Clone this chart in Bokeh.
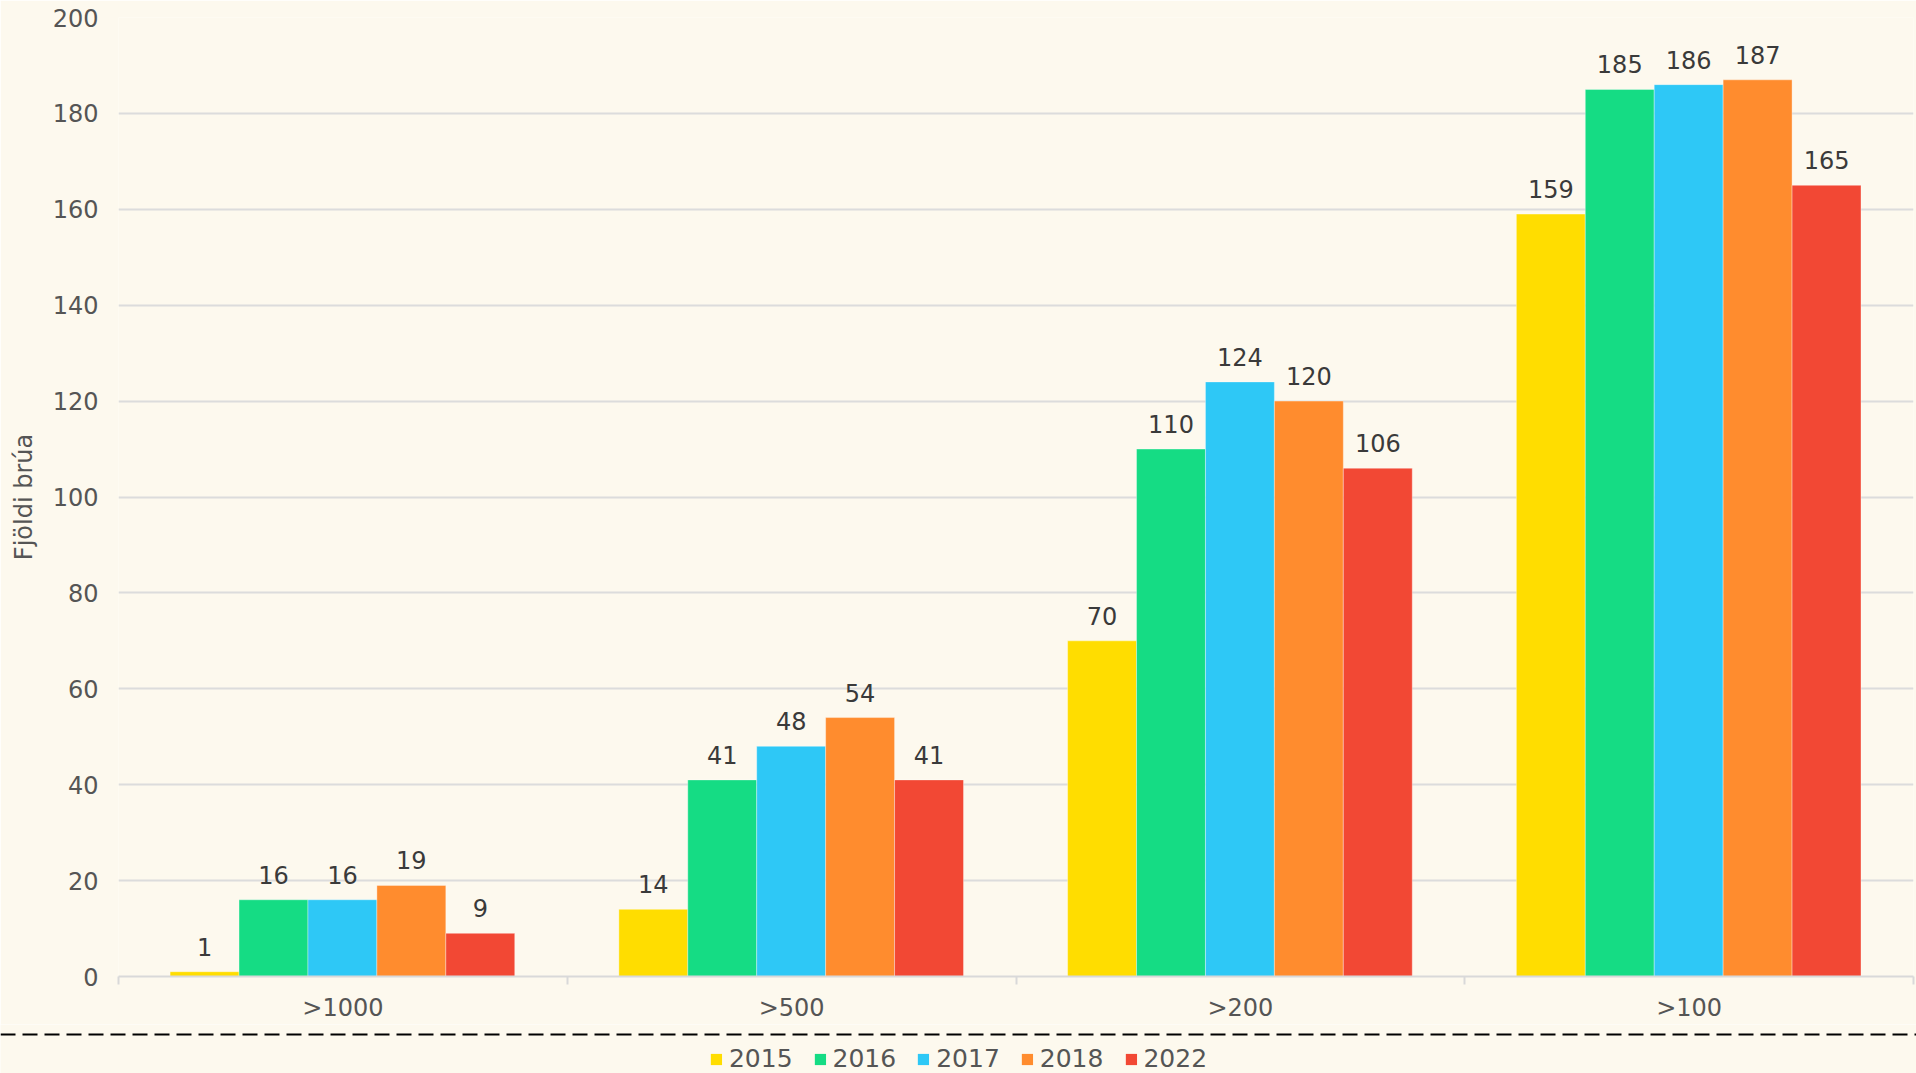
from bokeh.plotting import figure
from bokeh.models import ColumnDataSource, FixedTicker, Range1d, Span, Legend, LegendItem
from bokeh.layouts import column
from bokeh.embed import file_html
from bokeh.resources import INLINE
from bokeh.core.properties import value

categories = [">1000", ">500", ">200", ">100"]
years = ["2015", "2016", "2017", "2018", "2022"]
v2015 = [1, 14, 70, 159]
v2016 = [16, 41, 110, 185]
v2017 = [16, 48, 124, 186]
v2018 = [19, 54, 120, 187]
v2022 = [9, 41, 106, 165]
y_ticks = [0, 20, 40, 60, 80, 100, 120, 140, 160, 180, 200]
y_label = "Fjöldi brúa"

series = [v2015, v2016, v2017, v2018, v2022]
colors = ["#FFDD00", "#15DC84", "#2EC8F6", "#FF8C2E", "#F24834"]

FONT = "DejaVu Sans"
BG = "#FDF9EE"
TICK_COLOR = "#555555"

p = figure(width=1916, height=1024,
           x_range=Range1d(0, len(categories)), y_range=Range1d(0, y_ticks[-1]),
           output_backend="svg", toolbar_location=None,
           min_border_left=118, min_border_right=3, min_border_top=17, min_border_bottom=48,
           background_fill_color=BG, border_fill_color=BG, outline_line_color=None)

group_start = 0.115
bar_w = 0.1536
for j, (yr, vals, col) in enumerate(zip(years, series, colors)):
    xs = [i + group_start + (j + 0.5) * bar_w for i in range(len(categories))]
    src = ColumnDataSource(dict(x=xs, top=vals, label=[str(v) for v in vals]))
    p.vbar(x="x", top="top", width=bar_w, source=src, fill_color=col,
           line_color="white", line_alpha=0.35, line_width=1)
    p.text(x="x", y="top", text="label", source=src, text_align="center",
           text_baseline="alphabetic", y_offset=-25, text_font=value(FONT),
           text_font_size="24px", text_color="#3a3a3a")

xa = p.xaxis[0]
xa.ticker = FixedTicker(ticks=[i + 0.5 for i in range(len(categories))],
                        minor_ticks=list(range(len(categories) + 1)))
xa.major_label_overrides = {i + 0.5: c for i, c in enumerate(categories)}
xa.major_tick_line_color = None
xa.major_tick_out = 8
xa.major_tick_in = 0
xa.minor_tick_line_color = "#d9d9d9"
xa.minor_tick_line_width = 2
xa.minor_tick_out = 8
xa.minor_tick_in = 0
xa.axis_line_color = "#d9d9d9"
xa.axis_line_width = 2
xa.major_label_standoff = 9
xa.major_label_text_font = FONT
xa.major_label_text_font_size = "24px"
xa.major_label_text_color = TICK_COLOR

ya = p.yaxis[0]
ya.ticker = FixedTicker(ticks=y_ticks)
ya.axis_line_color = None
ya.major_tick_line_color = None
ya.minor_tick_line_color = None
ya.major_tick_out = 0
ya.major_tick_in = 0
ya.major_label_standoff = 20
ya.major_label_text_font = FONT
ya.major_label_text_font_size = "24px"
ya.major_label_text_color = TICK_COLOR
ya.axis_label = y_label
ya.axis_label_standoff = 12
ya.axis_label_text_font = FONT
ya.axis_label_text_font_size = "24px"
ya.axis_label_text_font_style = "normal"
ya.axis_label_text_color = TICK_COLOR

p.xgrid.visible = False
p.ygrid.grid_line_color = "#dcdcdc"
p.ygrid.grid_line_width = 2

# footer with dashed separator and legend
p2 = figure(width=1916, height=49, x_range=Range1d(0, 1), y_range=Range1d(0, 49),
            output_backend="svg", toolbar_location=None,
            x_axis_type=None, y_axis_type=None, min_border=0,
            background_fill_color=BG, border_fill_color=BG, outline_line_color=None)
for fig in (p, p2):
    if "frame_align" in fig.properties():
        fig.frame_align = False
p2.add_layout(Span(location=39, dimension="width", line_color="black",
                   line_width=2, line_dash="15 7"))
items = []
for yr, col in zip(years, colors):
    # zero-height swatch carrier: draws nothing in the frame, only feeds the legend
    r = p2.vbar(x=[0], top=[0], width=0, fill_color=col, line_color=None)
    items.append(LegendItem(label=yr, renderers=[r]))
legend = Legend(items=items, orientation="horizontal", location="bottom_center",
                glyph_width=14, glyph_height=14, label_standoff=6, spacing=20,
                padding=0, margin=0, background_fill_alpha=0, border_line_color=None,
                label_text_font=FONT, label_text_font_size="25px",
                label_text_color=TICK_COLOR)
p2.add_layout(legend)

layout = column(p, p2, spacing=0)
open("out.html", "w").write(file_html(layout, INLINE))
